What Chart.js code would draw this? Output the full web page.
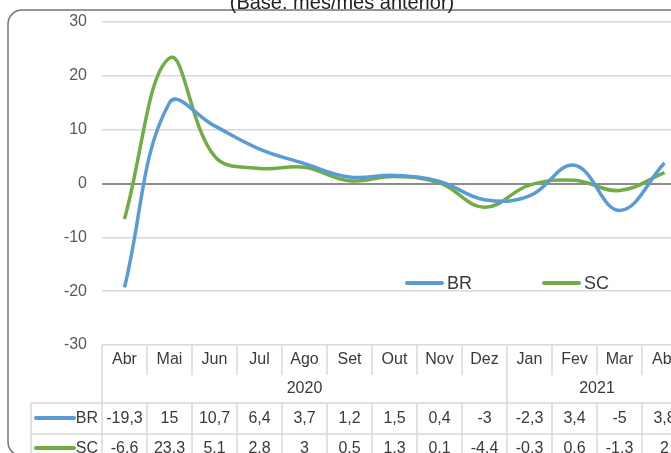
<!DOCTYPE html>
<html>
<head>
<meta charset="utf-8">
<script src="https://cdn.jsdelivr.net/npm/chart.js@4.4.0/dist/chart.umd.min.js"></script>
<style>
  html, body { margin: 0; padding: 0; background: #fff; overflow: hidden; }
  #wrap { position: relative; width: 671px; height: 453px; overflow: hidden; }
  #grafico { position: absolute; left: 0; top: 0; }
</style>
</head>
<body>
<div id="wrap"><canvas id="grafico" width="700" height="453"></canvas></div>
<script>
const meses = ['Abr', 'Mai', 'Jun', 'Jul', 'Ago', 'Set', 'Out', 'Nov', 'Dez', 'Jan', 'Fev', 'Mar', 'Abr'];
const anos = ['2020', '2021'];
const mesesPorAno = [9, 4];
const valoresBR = [-19.3, 15, 10.7, 6.4, 3.7, 1.2, 1.5, 0.4, -3, -2.3, 3.4, -5, 3.8];
const valoresSC = [-6.6, 23.3, 5.1, 2.8, 3, 0.5, 1.3, 0.1, -4.4, -0.3, 0.6, -1.3, 2];
const ticksY = [-30, -20, -10, 0, 10, 20, 30];
const titulo = '(Base: mês/mês anterior)';

const FONTE = '"Liberation Sans", Arial, sans-serif';
const AZUL = '#5b9bd5';
const VERDE = '#70ad47';
const GRADE = '#d9d9d9';
const TEXTO = '#3a3a3a';

// moldura, titulo cortado e legenda dentro da area
const decoracao = {
    id: 'decoracao',
    beforeDraw(chart) {
        const ctx = chart.ctx;
        ctx.save();
        ctx.strokeStyle = '#767676';
        ctx.lineWidth = 1.5;
        ctx.beginPath();
        ctx.roundRect(8, 10, 720, 446, 14);
        ctx.stroke();

        ctx.fillStyle = '#222';
        ctx.font = '20px ' + FONTE;
        ctx.textAlign = 'center';
        ctx.textBaseline = 'alphabetic';
        ctx.fillText(titulo, 342, 8.5);
        ctx.restore();
    },
    afterDatasetsDraw(chart) {
        const ctx = chart.ctx;
        const y = chart.scales.y.getPixelForValue(-18.5);
        const inicio = [405, 542];
        ctx.save();
        ctx.lineCap = 'round';
        ctx.textBaseline = 'middle';
        ctx.font = '18px ' + FONTE;
        chart.data.datasets.forEach((ds, i) => {
            ctx.strokeStyle = ds.borderColor;
            ctx.lineWidth = 4;
            ctx.beginPath();
            ctx.moveTo(inicio[i] + 2, y);
            ctx.lineTo(inicio[i] + 37, y);
            ctx.stroke();
            ctx.fillStyle = TEXTO;
            ctx.fillText(ds.label, inicio[i] + 42, y + 1);
        });
        ctx.restore();
    }
};

// tabela de dados abaixo do grafico
const tabela = {
    id: 'tabela',
    afterDraw(chart) {
        const { ctx, chartArea: a, scales: { x } } = chart;
        const passo = x.getPixelForValue(1) - x.getPixelForValue(0);
        const borda = i => x.getPixelForValue(i) - passo / 2;
        const direita = borda(meses.length);
        const topo = a.bottom;
        const linhaMes = topo + 30, linhaAno = topo + 58, linhaBR = topo + 89, linhaSC = topo + 120;
        const esquerdaLegenda = 31;

        ctx.save();
        ctx.strokeStyle = GRADE;
        ctx.lineWidth = 1.5;
        ctx.beginPath();
        // bordas verticais
        ctx.moveTo(a.left, topo); ctx.lineTo(a.left, linhaSC + 20);
        for (let i = 1; i <= meses.length; i++) {
            const bx = borda(i);
            ctx.moveTo(bx, topo); ctx.lineTo(bx, linhaMes);
            ctx.moveTo(bx, linhaAno); ctx.lineTo(bx, linhaSC + 20);
        }
        let acum = 0;
        mesesPorAno.forEach(n => {
            acum += n;
            const bx = borda(acum);
            ctx.moveTo(bx, linhaMes); ctx.lineTo(bx, linhaAno);
        });
        ctx.moveTo(esquerdaLegenda, linhaAno); ctx.lineTo(esquerdaLegenda, linhaSC + 20);
        // linhas horizontais
        ctx.moveTo(esquerdaLegenda, linhaAno); ctx.lineTo(direita, linhaAno);
        ctx.moveTo(esquerdaLegenda, linhaBR); ctx.lineTo(direita, linhaBR);
        ctx.stroke();

        ctx.font = '16px ' + FONTE;
        ctx.fillStyle = TEXTO;
        ctx.textAlign = 'center';
        ctx.textBaseline = 'middle';
        meses.forEach((m, i) => ctx.fillText(m, x.getPixelForValue(i), topo + 15));

        acum = 0;
        anos.forEach((ano, k) => {
            const cx = (borda(acum) + borda(acum + mesesPorAno[k])) / 2;
            ctx.fillText(ano, cx, topo + 44);
            acum += mesesPorAno[k];
        });

        const separador = [',', '.'];
        const centros = [topo + 74, topo + 104];
        chart.data.datasets.forEach((ds, d) => {
            ds.data.forEach((v, i) => {
                ctx.fillText(String(v).replace('.', separador[d]), x.getPixelForValue(i), centros[d]);
            });
            ctx.strokeStyle = ds.borderColor;
            ctx.lineWidth = 4;
            ctx.lineCap = 'round';
            ctx.beginPath();
            ctx.moveTo(36, centros[d] - 1);
            ctx.lineTo(74, centros[d] - 1);
            ctx.stroke();
            ctx.textAlign = 'right';
            ctx.fillText(ds.label, 98, centros[d]);
            ctx.textAlign = 'center';
        });
        ctx.restore();
    }
};

new Chart(document.getElementById('grafico'), {
    type: 'line',
    data: {
        labels: meses,
        datasets: [
            { label: 'BR', data: valoresBR, borderColor: AZUL, borderWidth: 3.5, tension: 0.4 },
            { label: 'SC', data: valoresSC, borderColor: VERDE, borderWidth: 3.5, tension: 0.4 }
        ]
    },
    options: {
        responsive: false,
        animation: false,
        devicePixelRatio: 1,
        layout: { padding: { top: 22, bottom: 108, left: 0, right: 13 } },
        elements: { point: { radius: 0 }, line: { capBezierPoints: true } },
        plugins: { legend: { display: false }, tooltip: { enabled: false } },
        scales: {
            x: { display: false, offset: true },
            y: {
                min: -30, max: 30,
                afterFit: s => { s.width = 102; s.paddingTop = 0; s.paddingBottom = 0; },
                afterBuildTicks: s => { s.ticks = ticksY.map(v => ({ value: v })); },
                border: { display: false },
                grid: {
                    drawTicks: false,
                    color: c => c.tick.value === 0 ? '#8c8c8c' : GRADE,
                    lineWidth: c => c.tick.value === 0 ? 2 : 1.5
                },
                ticks: { padding: 15, color: '#595959', font: { family: FONTE, size: 16 } }
            }
        }
    },
    plugins: [decoracao, tabela]
});
</script>
</body>
</html>
